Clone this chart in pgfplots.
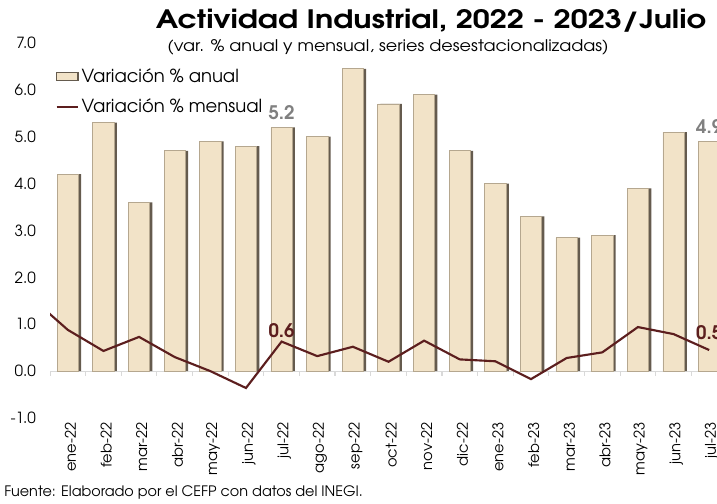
\documentclass[border=0pt]{standalone}
\usepackage{fontspec}
\setmainfont{TeX Gyre Adventor}
\usepackage{pgfplots}
\pgfplotsset{compat=1.18}
\definecolor{beige}{HTML}{F2E3C8}
\definecolor{baredge}{HTML}{B5A78F}
\definecolor{bardark}{HTML}{655B4E}
\definecolor{maroon}{HTML}{5C1E1E}
\definecolor{labgray}{HTML}{808080}
\definecolor{axisgray}{HTML}{D9D9D9}
\begin{document}
\begin{tikzpicture}[x=0.75pt,y=0.75pt]
\useasboundingbox (0,0) rectangle (717,503);
\clip (0,0) rectangle (717,503);
\begin{axis}[
  at={(37.5pt,63.75pt)}, anchor=south west,
  width=507.75pt, height=281.25pt, scale only axis,
  xmin=-0.5, xmax=18.5, ymin=-1, ymax=7,
  axis line style={draw=none},
  tick style={draw=none},
  xtick={0,...,18},
  xticklabels={ene-22,feb-22,mar-22,abr-22,may-22,jun-22,jul-22,ago-22,sep-22,oct-22,nov-22,dic-22,ene-23,feb-23,mar-23,abr-23,may-23,jun-23,jul-23},
  xticklabel style={rotate=90, anchor=east, font=\fontsize{11}{13}\selectfont, yshift=-2pt},
  ytick={-1,0,1,2,3,4,5,6,7},
  yticklabels={-1.0,0.0,1.0,2.0,3.0,4.0,5.0,6.0,7.0},
  yticklabel style={anchor=east, font=\fontsize{11.5}{13}\selectfont, xshift=-7pt},
  extra y ticks={0},
  extra y tick labels={},
  extra y tick style={grid=major, major grid style={draw=axisgray, line width=0.9pt}},
  legend style={at={(0.008,0.94)}, anchor=north west, draw=none, fill=none,
    font=\fontsize{13.5}{15}\selectfont, row sep=7pt, inner sep=0pt},
  legend cell align=left,
]
% boundary tick marks
\addplot[ycomb, draw=axisgray, line width=0.9pt, mark=none, forget plot] coordinates {
(-0.5,-0.11) (0.5,-0.11) (1.5,-0.11) (2.5,-0.11) (3.5,-0.11) (4.5,-0.11) (5.5,-0.11) (6.5,-0.11) (7.5,-0.11) (8.5,-0.11) (9.5,-0.11) (10.5,-0.11) (11.5,-0.11) (12.5,-0.11) (13.5,-0.11) (14.5,-0.11) (15.5,-0.11) (16.5,-0.11) (17.5,-0.11) (18.5,-0.11)};
% shadow bars
\addplot[ybar, bar width=0.6, bar shift=2pt, fill=bardark, draw=none, forget plot] coordinates {
(0,4.2) (1,5.3) (2,3.6) (3,4.7) (4,4.9) (5,4.8) (6,5.2) (7,5.0) (8,6.45) (9,5.7) (10,5.9) (11,4.7) (12,4.0) (13,3.3) (14,2.85) (15,2.9) (16,3.9) (17,5.1) (18,4.9)};
% main bars
\addplot[ybar, bar width=0.6, bar shift=0pt, fill=beige, draw=baredge, line width=0.5pt,
  legend image code/.code={\draw[fill=beige, draw=bardark, line width=0.8pt] (0pt,-3pt) rectangle (16pt,3pt);}] coordinates {
(0,4.2) (1,5.3) (2,3.6) (3,4.7) (4,4.9) (5,4.8) (6,5.2) (7,5.0) (8,6.45) (9,5.7) (10,5.9) (11,4.7) (12,4.0) (13,3.3) (14,2.85) (15,2.9) (16,3.9) (17,5.1) (18,4.9)};
\addlegendentry{Variación \% anual}
% monthly line
\addplot[sharp plot, draw=maroon, line width=1.6pt, mark=none,
  legend image code/.code={\draw[maroon, line width=1.5pt] (0pt,0pt) -- (16pt,0pt);}] coordinates {
(-1,1.55) (0,0.88) (1,0.43) (2,0.73) (3,0.30) (4,0.0) (5,-0.36) (6,0.63) (7,0.32) (8,0.52) (9,0.20) (10,0.65) (11,0.25) (12,0.21) (13,-0.17) (14,0.28) (15,0.40) (16,0.94) (17,0.79) (18,0.45)};
\addlegendentry{Variación \% mensual}
% data labels
\addplot[draw=none, mark=none, forget plot, nodes near coords, point meta=explicit symbolic,
  nodes near coords style={anchor=center, yshift=11pt, font=\bfseries\fontsize{14}{16}\selectfont, text=labgray}]
  coordinates {(6,5.2)[5.2] (18,4.9)[4.9]};
\addplot[draw=none, mark=none, forget plot, nodes near coords, point meta=explicit symbolic,
  nodes near coords style={anchor=center, yshift=8pt, font=\bfseries\fontsize{14}{16}\selectfont, text=maroon}]
  coordinates {(6,0.63)[0.6]};
\addplot[draw=none, mark=none, forget plot, nodes near coords, point meta=explicit symbolic,
  nodes near coords style={anchor=center, yshift=13pt, font=\bfseries\fontsize{14}{16}\selectfont, text=maroon}]
  coordinates {(18,0.45)[0.5]};
\end{axis}
\node[anchor=base, inner sep=0pt, font=\bfseries\fontsize{19}{22}\selectfont] at (431,474) {\scalebox{1.2}[1]{Actividad Industrial, 2022 - 2023/Julio}};
\node[anchor=base, inner sep=0pt, font=\fontsize{12}{14}\selectfont] at (388,451) {\scalebox{1.1}[1]{(var. \% anual y mensual, series desestacionalizadas)}};
\node[anchor=base west, inner sep=0pt, font=\fontsize{10.8}{12}\selectfont] at (4,7) {Fuente: Elaborado por el CEFP con datos del INEGI.};
\end{tikzpicture}
\end{document}
